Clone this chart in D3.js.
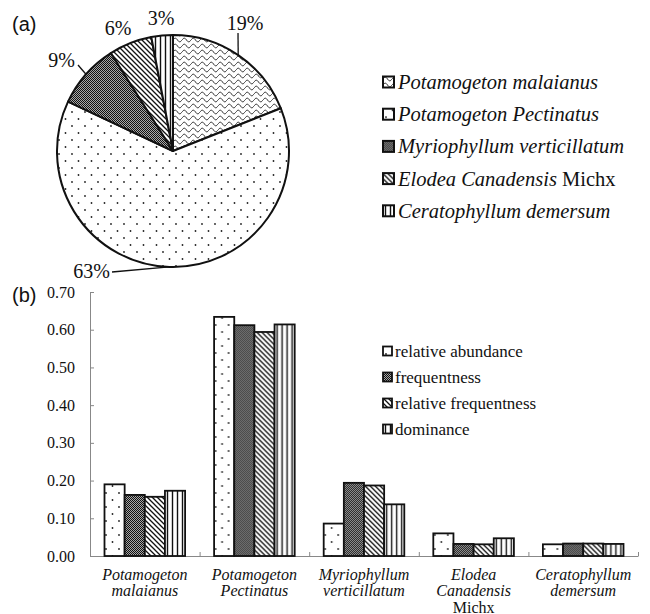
<!DOCTYPE html>
<html>
<head>
<meta charset="utf-8">
<script src="https://cdn.jsdelivr.net/npm/d3@7/dist/d3.min.js"></script>
<style>
  html, body { margin: 0; padding: 0; background: #fff; }
  svg { display: block; }
  text { fill: #111; }
</style>
</head>
<body>
<svg id="chart" width="650" height="614"></svg>
<script>
// ---- (a) share of each species ----
const species = ["Potamogeton malaianus", "Potamogeton Pectinatus", "Myriophyllum verticillatum", "Elodea Canadensis", "Ceratophyllum demersum"];
const speciesSuffix = ["", "", "", " Michx", ""];
const sharePct = [19, 63, 9, 6, 3];
const speciesPattern = ["wave", "dots", "check", "diag", "vert"];

// ---- (b) indices per species ----
const categoryLines = [
  ["Potamogeton", "malaianus"],
  ["Potamogeton", "Pectinatus"],
  ["Myriophyllum", "verticillatum"],
  ["Elodea", "Canadensis", "Michx"],
  ["Ceratophyllum", "demersum"]
];
const seriesNames = ["relative abundance", "frequentness", "relative frequentness", "dominance"];
const seriesPattern = ["dots", "check", "diag", "vert"];
const relativeAbundance   = [0.19, 0.634, 0.086, 0.060, 0.031];
const frequentness        = [0.162, 0.612, 0.194, 0.032, 0.033];
const relativeFrequentness = [0.157, 0.594, 0.187, 0.031, 0.033];
const dominance           = [0.173, 0.614, 0.137, 0.047, 0.032];
const yTicks = [0, 0.1, 0.2, 0.3, 0.4, 0.5, 0.6, 0.7];

const seriesValues = [relativeAbundance, frequentness, relativeFrequentness, dominance];

const svg = d3.select("#chart");
const serif = "'Liberation Serif', 'Times New Roman', serif";
const sans = "'Liberation Sans', Arial, sans-serif";

// ---- fill patterns ----
const defs = svg.append("defs");
function pattern(id, w, h) {
  const p = defs.append("pattern").attr("id", id)
    .attr("patternUnits", "userSpaceOnUse").attr("width", w).attr("height", h);
  p.append("rect").attr("width", w).attr("height", h).attr("fill", "#fff");
  return p;
}
{
  const p = pattern("wave", 9, 6);
  p.append("path").attr("d", "M0,3 C1.5,0.6 3,0.6 4.5,3 S7.5,5.4 9,3")
    .attr("fill", "none").attr("stroke", "#111").attr("stroke-width", 0.9);
}
{
  const p = pattern("dots", 13, 14);
  p.append("circle").attr("cx", 3).attr("cy", 3).attr("r", 0.9).attr("fill", "#222");
  p.append("circle").attr("cx", 9.5).attr("cy", 10).attr("r", 0.9).attr("fill", "#222");
}
{
  const p = pattern("check", 2, 2);
  p.select("rect").attr("fill", "#a8a8a8");
  p.append("rect").attr("x", 0).attr("y", 0).attr("width", 1).attr("height", 1).attr("fill", "#111");
  p.append("rect").attr("x", 1).attr("y", 1).attr("width", 1).attr("height", 1).attr("fill", "#111");
}
{
  const p = pattern("diag", 5, 5);
  p.append("path").attr("d", "M-1,-1 L6,6 M-1,4 L1,6 M4,-1 L6,1")
    .attr("stroke", "#111").attr("stroke-width", 1.3);
}
{
  const p = pattern("vert", 5, 10);
  p.append("line").attr("x1", 2.5).attr("x2", 2.5).attr("y1", 0).attr("y2", 10)
    .attr("stroke", "#111").attr("stroke-width", 1.4);
}

// ================= (a) pie =================
svg.append("text").attr("x", 12).attr("y", 31).attr("font-family", sans)
  .attr("font-size", 20).text("(a)");

const cx = 173, cy = 151, R = 116;
const pieGen = d3.pie().sort(null).value(d => d)(sharePct);
const arc = d3.arc().innerRadius(0).outerRadius(R);
const gPie = svg.append("g").attr("transform", `translate(${cx},${cy})`);
gPie.selectAll("path").data(pieGen).join("path")
  .attr("d", arc)
  .attr("fill", (d, i) => `url(#${speciesPattern[i]})`)
  .attr("stroke", "#111").attr("stroke-width", 2).attr("stroke-linejoin", "round");

// percentage labels; some joined to their slice by a leader line
const pctLabels = [
  { dx: 72, dy: -121, anchor: "middle", leader: [65, -118] },
  { dx: -63, dy: 127, anchor: "end", leader: [-61, 121] },
  { dx: -98, dy: -84, anchor: "end", leader: [-95, -86] },
  { dx: -55, dy: -116, anchor: "middle", leader: null },
  { dx: -12, dy: -126, anchor: "middle", leader: null }
];
function edgePoint(d) {
  const a = (d.startAngle + d.endAngle) / 2;
  return [R * Math.sin(a), -R * Math.cos(a)];
}
pieGen.forEach((d, i) => {
  const L = pctLabels[i];
  if (L.leader) {
    const [ex, ey] = edgePoint(d);
    gPie.append("line").attr("x1", ex).attr("y1", ey)
      .attr("x2", L.leader[0]).attr("y2", L.leader[1])
      .attr("stroke", "#111").attr("stroke-width", 1.3);
  }
  gPie.append("text").attr("x", L.dx).attr("y", L.dy)
    .attr("text-anchor", L.anchor).attr("font-family", serif)
    .attr("font-size", 20).text(sharePct[i] + "%");
});

// pie legend
const legA = svg.append("g").attr("transform", "translate(383,82)");
species.forEach((name, i) => {
  const row = legA.append("g").attr("transform", `translate(0,${i * 32.2})`);
  row.append("rect").attr("x", 0).attr("y", -5.5).attr("width", 11).attr("height", 11)
    .attr("fill", `url(#${speciesPattern[i]})`).attr("stroke", "#111").attr("stroke-width", 2);
  const t = row.append("text").attr("x", 15).attr("y", 7)
    .attr("font-family", serif).attr("font-size", 20.5);
  t.append("tspan").attr("font-style", "italic").text(name);
  if (speciesSuffix[i]) t.append("tspan").text(speciesSuffix[i]);
});

// ================= (b) grouped bars =================
svg.append("text").attr("x", 12).attr("y", 302).attr("font-family", sans)
  .attr("font-size", 20).text("(b)");

const x0 = d3.scaleBand().domain(d3.range(categoryLines.length)).range([90, 638]).padding(0);
const x1 = d3.scaleBand().domain(d3.range(seriesNames.length))
  .range([14.5, x0.bandwidth() - 14.5]).padding(0);
const y = d3.scaleLinear().domain([0, 0.7]).range([556, 292]);

// y axis with inward ticks
const yAxis = svg.append("g").attr("transform", "translate(90,0)")
  .call(d3.axisLeft(y).tickValues(yTicks).tickFormat(d3.format(".2f"))
    .tickSizeInner(-4).tickSizeOuter(0).tickPadding(15));
yAxis.select(".domain").attr("stroke", "#888");
yAxis.selectAll(".tick line").attr("stroke", "#888");
yAxis.selectAll(".tick text").attr("font-family", serif).attr("font-size", 16).attr("fill", "#111");

// x axis: baseline with small upward ticks at category boundaries
const xb = d3.scaleLinear().domain([0, categoryLines.length]).range([90, 638]);
const xAxis = svg.append("g").attr("transform", `translate(0,${y(0)})`)
  .call(d3.axisBottom(xb).tickValues(d3.range(1, categoryLines.length + 1))
    .tickFormat("").tickSizeInner(-4).tickSizeOuter(0));
xAxis.select(".domain").attr("stroke", "#888");
xAxis.selectAll(".tick line").attr("stroke", "#888");

// bars
const groups = svg.append("g").selectAll("g").data(categoryLines).join("g")
  .attr("transform", (d, i) => `translate(${x0(i)},0)`);
groups.each(function (d, ci) {
  d3.select(this).selectAll("rect").data(seriesValues.map(s => s[ci])).join("rect")
    .attr("x", (v, si) => x1(si))
    .attr("y", v => y(v))
    .attr("width", x1.bandwidth())
    .attr("height", v => y(0) - y(v))
    .attr("fill", (v, si) => `url(#${seriesPattern[si]})`)
    .attr("stroke", "#111").attr("stroke-width", 1.8);
});

// category labels
groups.append("text")
  .attr("x", x0.bandwidth() / 2).attr("text-anchor", "middle")
  .attr("font-family", serif).attr("font-size", 16)
  .each(function (lines) {
    const t = d3.select(this);
    lines.forEach((ln, k) => {
      t.append("tspan").attr("x", x0.bandwidth() / 2).attr("y", 579.5 + k * 16.5)
        .attr("font-style", ln === "Michx" ? "normal" : "italic").text(ln);
    });
  });

// bar legend
const legB = svg.append("g").attr("transform", "translate(383,351)");
seriesNames.forEach((name, i) => {
  const row = legB.append("g").attr("transform", `translate(0,${i * 26})`);
  row.append("rect").attr("x", 0).attr("y", -4.5).attr("width", 9).attr("height", 9)
    .attr("fill", `url(#${seriesPattern[i]})`).attr("stroke", "#111").attr("stroke-width", 1.8);
  row.append("text").attr("x", 12).attr("y", 5.5)
    .attr("font-family", serif).attr("font-size", 17).text(name);
});
</script>
</body>
</html>
